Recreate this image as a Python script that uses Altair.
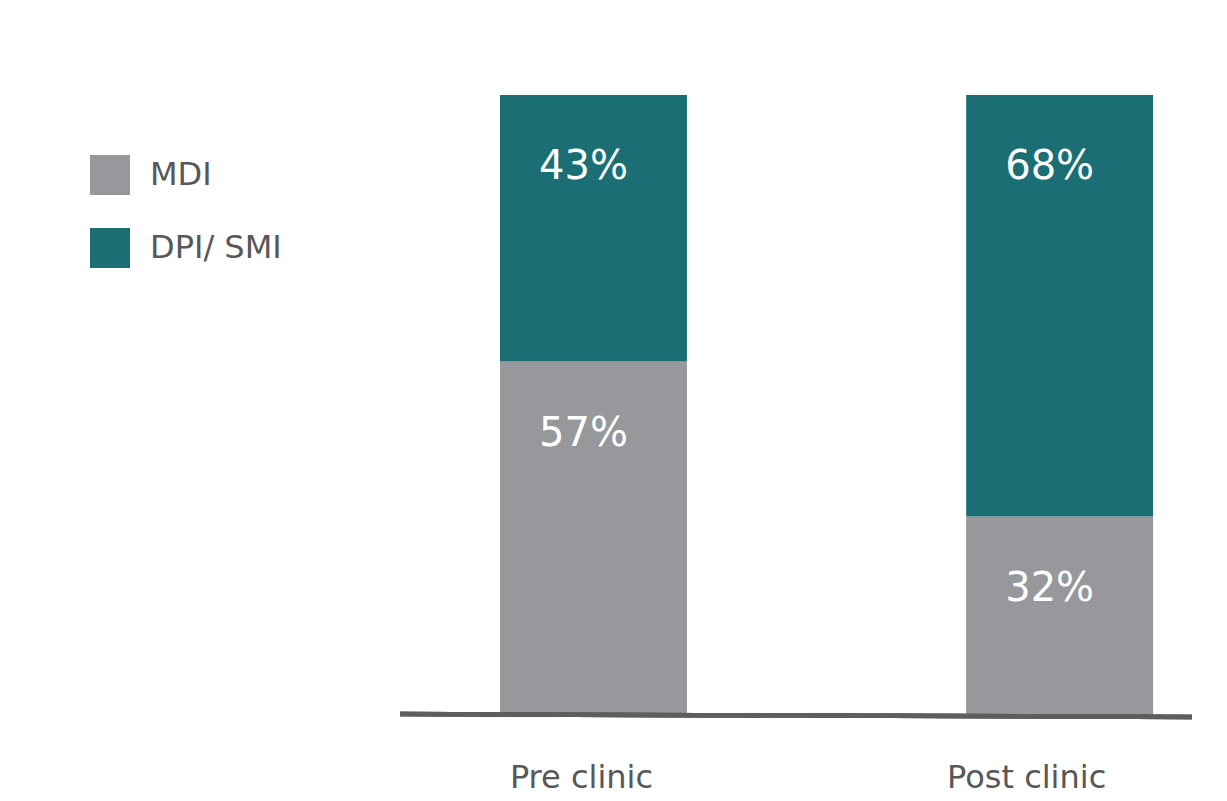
import altair as alt
import pandas as pd

groups = ["Pre clinic", "Pre clinic", "Post clinic", "Post clinic"]
categories = ["MDI", "DPI/ SMI", "MDI", "DPI/ SMI"]
values = [57, 43, 32, 68]
stack_order = [0, 1, 0, 1]
labels = ["57%", "43%", "32%", "68%"]

group_domain = ["Pre clinic", "Post clinic"]
cat_domain = ["MDI", "DPI/ SMI"]
cat_colors = ["#97989c", "#1b6e74"]

df = pd.DataFrame({
    "group": groups,
    "category": categories,
    "value": values,
    "ord": stack_order,
    "label": labels,
})

FONT = "DejaVu Sans"
TEXT = "#58585a"

xscale = alt.Scale(domain=group_domain, paddingInner=0.599, paddingOuter=0.149, align=0.72)
yscale = alt.Scale(domain=[0, 100])

base = alt.Chart(df).transform_stack(
    stack="value", groupby=["group"], as_=["y0", "y1"], sort=[alt.SortField("ord", order="ascending")]
)

bars = base.mark_bar().encode(
    x=alt.X("group:N", scale=xscale, sort=group_domain, title=None,
            axis=alt.Axis(domain=False, ticks=False, labelAngle=0, labelFontSize=32,
                          labelColor=TEXT, labelPadding=47, labelFont=FONT,
                          labelOffset=alt.ExprRef("datum.value == 'Pre clinic' ? -12 : -33"))),
    y=alt.Y("y0:Q", scale=yscale, axis=None),
    y2="y1:Q",
    color=alt.Color("category:N", scale=alt.Scale(domain=cat_domain, range=cat_colors),
                    legend=alt.Legend(title=None, orient="none", legendX=-310, legendY=60,
                                      symbolType="square", symbolSize=1600, symbolStrokeWidth=0,
                                      labelFontSize=32, labelColor=TEXT, labelFont=FONT,
                                      labelOffset=20, rowPadding=33, labelLimit=0)),
)

text = base.mark_text(color="white", fontSize=40, font=FONT, baseline="middle", dy=72, dx=-10).encode(
    x=alt.X("group:N", scale=xscale, sort=group_domain),
    y=alt.Y("y1:Q", scale=yscale),
    text="label:N",
)

baseline = alt.Chart(df).mark_rule(color="#5e5e60", strokeWidth=4.5).encode(
    x=alt.value(0), x2=alt.value(792), y=alt.value(619), y2=alt.value(622)
)

chart = alt.layer(bars, text, baseline).properties(
    width=792, height=620,
    padding={"left": 400, "top": 95, "right": 35, "bottom": 86},
    autosize=alt.AutoSizeParams(type="none"),
).configure(font=FONT).configure_view(strokeWidth=0, stroke="transparent")

chart.save("out.html", embed_options={"renderer": "svg", "actions": False})
